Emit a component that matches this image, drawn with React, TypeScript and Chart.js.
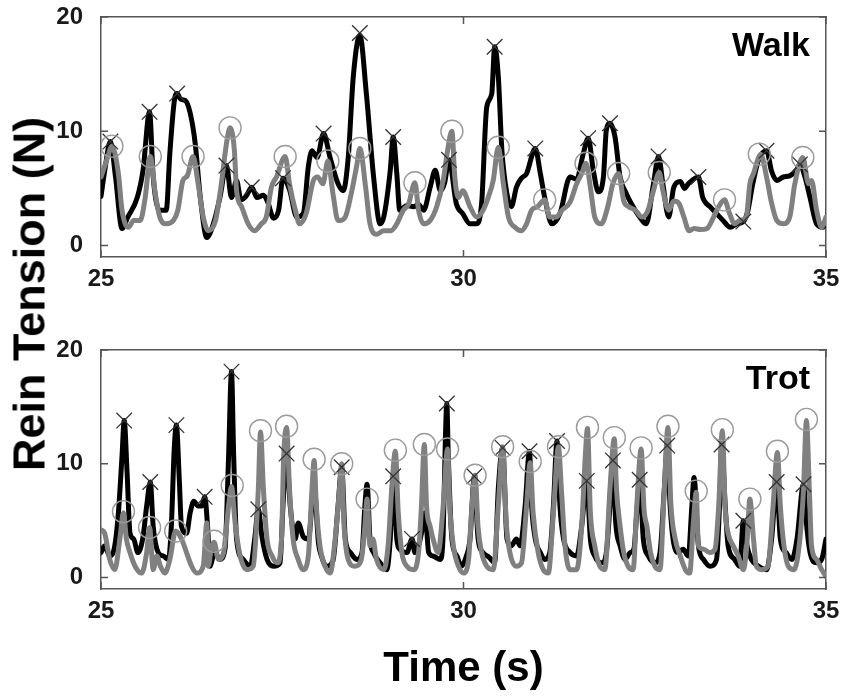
import { useEffect, useRef } from "react";
import { Chart, registerables } from "chart.js";

Chart.register(...registerables);

const FONT = "'Liberation Sans', Arial, Helvetica, sans-serif";

const xTicks = [25, 30, 35];
const yTicks = [0, 10, 20];

// ---------- Walk panel ----------
const walkBlackTime = [25.0, 25.05, 25.13, 25.2, 25.29, 25.37, 25.5, 25.58, 25.67, 25.72, 25.81, 25.9, 25.95, 26.02, 26.05, 26.1, 26.16, 26.23, 26.3, 26.37, 26.46, 26.55, 26.64, 26.73, 26.8, 26.87, 26.93, 27.0, 27.08, 27.15, 27.24, 27.3, 27.38, 27.45, 27.51, 27.6, 27.7, 27.79, 27.86, 27.91, 27.98, 28.07, 28.16, 28.27, 28.34, 28.41, 28.48, 28.57, 28.66, 28.76, 28.85, 28.9, 28.99, 29.03, 29.08, 29.12, 29.22, 29.31, 29.38, 29.45, 29.54, 29.61, 29.68, 29.74, 29.8, 29.9, 29.99, 30.09, 30.18, 30.25, 30.32, 30.39, 30.43, 30.48, 30.53, 30.6, 30.66, 30.73, 30.8, 30.87, 30.99, 31.06, 31.12, 31.22, 31.33, 31.47, 31.56, 31.65, 31.72, 31.79, 31.86, 31.93, 31.97, 32.02, 32.09, 32.16, 32.25, 32.34, 32.43, 32.52, 32.62, 32.69, 32.75, 32.83, 32.9, 32.99, 33.05, 33.1, 33.24, 33.3, 33.4, 33.49, 33.58, 33.68, 33.77, 33.86, 33.92, 33.99, 34.07, 34.18, 34.25, 34.32, 34.41, 34.5, 34.59, 34.64, 34.71, 34.78, 34.87, 34.96, 35.0];
const walkBlackTension = [4.3, 6.5, 9.1, 6.0, 1.5, 2.5, 4.2, 6.6, 11.7, 6.0, 3.1, 3.1, 8.1, 13.0, 13.3, 12.8, 12.7, 11.6, 8.9, 4.2, 0.7, 1.9, 4.2, 7.0, 4.2, 5.7, 4.0, 4.3, 5.1, 4.2, 4.4, 3.8, 2.4, 3.1, 5.9, 4.9, 2.5, 2.8, 6.9, 8.3, 7.7, 9.8, 7.7, 5.4, 4.8, 7.7, 14.8, 18.4, 13.3, 6.0, 1.9, 2.5, 6.6, 9.5, 6.3, 3.1, 3.5, 3.4, 3.6, 3.1, 5.1, 6.6, 4.8, 5.5, 7.5, 3.7, 2.8, 1.9, 1.9, 3.7, 12.1, 13.3, 17.4, 14.8, 8.3, 4.5, 3.4, 5.1, 5.9, 6.3, 8.5, 6.3, 4.2, 1.9, 2.8, 6.0, 5.8, 8.0, 9.4, 6.6, 4.7, 6.0, 10.1, 10.7, 9.5, 6.0, 4.5, 3.4, 2.5, 1.9, 5.4, 7.8, 5.4, 2.5, 5.1, 5.6, 5.0, 5.4, 6.0, 4.2, 3.4, 2.8, 2.2, 1.6, 1.9, 2.1, 3.0, 5.4, 7.5, 8.3, 6.5, 5.7, 6.0, 6.1, 6.6, 7.1, 6.0, 4.2, 1.9, 1.6, 2.3];

const walkGrayTime = [25.0, 25.09, 25.15, 25.24, 25.29, 25.38, 25.45, 25.54, 25.61, 25.68, 25.75, 25.81, 25.9, 26.0, 26.06, 26.13, 26.19, 26.27, 26.34, 26.41, 26.48, 26.58, 26.66, 26.73, 26.78, 26.84, 26.87, 26.94, 27.03, 27.12, 27.21, 27.28, 27.35, 27.42, 27.54, 27.6, 27.68, 27.74, 27.83, 27.93, 27.99, 28.06, 28.13, 28.2, 28.27, 28.3, 28.37, 28.46, 28.53, 28.57, 28.65, 28.71, 28.8, 28.9, 29.0, 29.08, 29.17, 29.24, 29.33, 29.38, 29.45, 29.54, 29.63, 29.72, 29.78, 29.84, 29.88, 29.93, 29.99, 30.09, 30.18, 30.27, 30.34, 30.41, 30.48, 30.55, 30.62, 30.71, 30.8, 30.87, 30.94, 31.02, 31.12, 31.19, 31.28, 31.36, 31.47, 31.56, 31.63, 31.69, 31.75, 31.81, 31.9, 31.99, 32.06, 32.14, 32.21, 32.28, 32.37, 32.46, 32.54, 32.62, 32.7, 32.75, 32.83, 32.9, 32.97, 33.04, 33.11, 33.18, 33.27, 33.36, 33.45, 33.52, 33.6, 33.67, 33.74, 33.81, 33.9, 33.95, 34.0, 34.07, 34.1, 34.18, 34.25, 34.32, 34.41, 34.5, 34.57, 34.68, 34.76, 34.8, 34.87, 34.94, 35.0];
const walkGrayTension = [6.0, 7.7, 8.7, 6.3, 3.1, 1.6, 2.2, 2.2, 4.2, 7.8, 4.5, 2.5, 1.9, 2.2, 3.1, 5.7, 6.1, 7.8, 5.4, 2.5, 1.3, 2.2, 5.4, 8.9, 10.3, 8.3, 4.8, 3.4, 1.9, 1.3, 1.9, 2.5, 5.1, 6.0, 7.8, 5.4, 3.1, 1.9, 2.8, 5.7, 6.0, 5.4, 7.4, 4.5, 2.2, 2.2, 2.5, 4.8, 7.1, 8.5, 5.1, 1.9, 1.0, 1.3, 1.3, 1.9, 3.1, 3.6, 5.5, 3.1, 1.9, 2.2, 3.4, 5.7, 8.3, 10.0, 6.0, 4.2, 4.8, 3.4, 2.5, 3.1, 4.2, 5.7, 8.6, 5.4, 2.5, 1.6, 1.3, 1.9, 3.1, 3.4, 4.0, 2.5, 2.5, 3.1, 3.8, 5.4, 6.3, 7.2, 5.1, 2.5, 1.9, 3.4, 5.4, 6.3, 3.9, 3.4, 3.1, 2.5, 3.0, 4.8, 6.4, 4.8, 3.1, 3.9, 3.7, 2.5, 1.3, 1.5, 1.4, 1.5, 2.5, 3.4, 4.0, 2.8, 1.9, 2.2, 2.5, 5.4, 6.3, 7.7, 8.0, 6.0, 3.7, 2.2, 1.9, 2.5, 5.4, 7.7, 5.4, 5.7, 3.1, 1.6, 2.5];

const walkCrossTime = [25.13, 25.67, 26.05, 26.73, 27.08, 27.51, 28.07, 28.57, 29.03, 29.8, 30.43, 30.99, 31.72, 32.02, 32.69, 33.24, 33.86, 34.18, 34.64];
const walkCrossTension = [9.1, 11.7, 13.3, 7.0, 5.1, 5.9, 9.8, 18.6, 9.5, 7.5, 17.4, 8.5, 9.4, 10.7, 7.8, 6.0, 2.1, 8.3, 7.1];

const walkCircleTime = [25.15, 25.68, 26.27, 26.78, 27.54, 28.13, 28.57, 29.33, 29.84, 30.48, 31.12, 31.69, 32.14, 32.7, 33.6, 34.08, 34.68];
const walkCircleTension = [8.7, 7.8, 7.8, 10.3, 7.8, 7.4, 8.5, 5.5, 10.0, 8.6, 4.0, 7.2, 6.3, 6.4, 4.0, 8.0, 7.7];

// ---------- Trot panel ----------
const trotBlackTime = [25.0, 25.05, 25.12, 25.19, 25.24, 25.29, 25.32, 25.36, 25.4, 25.45, 25.51, 25.58, 25.63, 25.68, 25.72, 25.79, 25.86, 25.93, 25.97, 26.01, 26.04, 26.08, 26.11, 26.18, 26.23, 26.28, 26.34, 26.39, 26.43, 26.47, 26.5, 26.57, 26.64, 26.71, 26.76, 26.8, 26.83, 26.87, 26.96, 27.06, 27.12, 27.17, 27.22, 27.29, 27.38, 27.47, 27.51, 27.56, 27.61, 27.68, 27.72, 27.79, 27.86, 27.94, 28.0, 28.04, 28.11, 28.2, 28.27, 28.32, 28.37, 28.44, 28.53, 28.6, 28.64, 28.67, 28.71, 28.76, 28.85, 28.94, 28.99, 29.03, 29.08, 29.12, 29.22, 29.29, 29.33, 29.38, 29.42, 29.47, 29.52, 29.58, 29.68, 29.72, 29.75, 29.77, 29.79, 29.84, 29.91, 29.97, 30.04, 30.09, 30.15, 30.2, 30.27, 30.35, 30.43, 30.48, 30.54, 30.6, 30.66, 30.73, 30.78, 30.85, 30.91, 30.94, 30.99, 31.06, 31.12, 31.19, 31.24, 31.29, 31.33, 31.38, 31.47, 31.56, 31.63, 31.7, 31.75, 31.81, 31.91, 31.97, 32.02, 32.06, 32.1, 32.16, 32.23, 32.3, 32.35, 32.39, 32.43, 32.48, 32.55, 32.64, 32.71, 32.77, 32.81, 32.85, 32.89, 32.96, 33.03, 33.1, 33.15, 33.18, 33.24, 33.31, 33.4, 33.49, 33.54, 33.56, 33.61, 33.65, 33.74, 33.81, 33.86, 33.91, 33.97, 34.07, 34.18, 34.25, 34.32, 34.37, 34.45, 34.53, 34.6, 34.69, 34.73, 34.78, 34.87, 34.94, 35.0];
const trotBlackTension = [2.2, 2.8, 1.9, 2.8, 5.7, 10.7, 13.8, 9.2, 3.9, 3.4, 2.2, 3.6, 6.3, 8.4, 4.5, 2.2, 1.9, 1.6, 4.5, 11.3, 13.4, 8.6, 4.5, 3.9, 5.7, 6.7, 6.3, 6.3, 7.1, 4.5, 1.0, 2.2, 1.6, 2.5, 10.7, 18.1, 10.7, 3.4, 1.6, 1.0, 3.4, 6.0, 3.6, 1.6, 1.0, 1.3, 6.3, 10.9, 6.3, 3.4, 4.8, 3.6, 3.4, 8.0, 3.0, 1.9, 1.0, 1.5, 6.3, 9.7, 3.4, 2.2, 1.6, 2.2, 6.3, 8.2, 3.4, 2.2, 1.3, 0.7, 3.4, 8.9, 3.4, 2.5, 2.2, 3.4, 2.2, 2.8, 3.9, 5.7, 2.2, 1.9, 1.6, 3.9, 12.2, 15.3, 10.7, 3.4, 1.9, 1.0, 1.9, 3.4, 8.9, 3.5, 2.2, 1.8, 1.3, 7.8, 11.4, 3.4, 2.8, 3.4, 2.8, 6.3, 11.1, 6.3, 3.4, 2.2, 1.6, 2.2, 6.3, 12.0, 6.3, 3.4, 2.2, 1.9, 4.5, 8.5, 3.4, 1.9, 1.3, 2.2, 6.3, 10.3, 4.8, 2.8, 1.6, 2.2, 2.5, 5.7, 8.6, 3.4, 1.9, 1.3, 2.2, 7.8, 11.6, 6.3, 3.4, 2.2, 2.5, 1.9, 6.3, 8.8, 2.8, 1.6, 1.0, 1.6, 7.8, 11.7, 6.3, 2.8, 1.6, 1.0, 5.0, 2.8, 1.6, 1.0, 0.7, 3.4, 8.4, 3.4, 2.2, 1.6, 3.4, 8.2, 4.8, 2.2, 1.3, 1.6, 3.4];

const trotGrayTime = [25.0, 25.05, 25.12, 25.19, 25.26, 25.31, 25.35, 25.4, 25.47, 25.56, 25.63, 25.67, 25.72, 25.77, 25.82, 25.88, 25.95, 26.03, 26.11, 26.18, 26.25, 26.32, 26.41, 26.46, 26.48, 26.52, 26.56, 26.62, 26.69, 26.76, 26.8, 26.85, 26.92, 27.01, 27.1, 27.17, 27.2, 27.24, 27.29, 27.36, 27.43, 27.49, 27.52, 27.56, 27.6, 27.65, 27.72, 27.79, 27.86, 27.91, 27.94, 27.97, 28.02, 28.09, 28.16, 28.23, 28.3, 28.32, 28.35, 28.41, 28.5, 28.59, 28.64, 28.67, 28.71, 28.75, 28.8, 28.9, 28.96, 29.01, 29.06, 29.1, 29.15, 29.22, 29.31, 29.38, 29.42, 29.46, 29.49, 29.54, 29.58, 29.65, 29.72, 29.78, 29.81, 29.86, 29.93, 30.0, 30.07, 30.11, 30.16, 30.2, 30.25, 30.32, 30.41, 30.48, 30.54, 30.59, 30.64, 30.73, 30.8, 30.87, 30.92, 30.96, 31.03, 31.1, 31.17, 31.24, 31.31, 31.35, 31.4, 31.47, 31.56, 31.63, 31.68, 31.71, 31.75, 31.81, 31.88, 31.95, 32.02, 32.08, 32.11, 32.16, 32.21, 32.27, 32.34, 32.39, 32.45, 32.49, 32.53, 32.58, 32.64, 32.71, 32.77, 32.82, 32.86, 32.92, 32.99, 33.06, 33.12, 33.17, 33.21, 33.24, 33.31, 33.4, 33.47, 33.52, 33.57, 33.61, 33.65, 33.72, 33.79, 33.86, 33.91, 33.95, 34.0, 34.04, 34.11, 34.2, 34.27, 34.33, 34.37, 34.42, 34.48, 34.56, 34.64, 34.69, 34.73, 34.77, 34.8, 34.87, 34.94, 35.0];
const trotGrayTension = [4.2, 3.9, 1.6, 0.7, 3.4, 5.7, 3.4, 2.2, 1.0, 0.4, 2.2, 4.4, 0.7, 1.9, 1.0, 0.4, 1.6, 4.1, 3.4, 2.2, 1.0, 0.4, 1.0, 4.8, 1.0, 2.6, 3.1, 1.6, 2.2, 6.3, 8.0, 4.8, 1.9, 0.7, 1.0, 7.8, 12.8, 7.8, 3.4, 1.9, 1.3, 3.4, 10.7, 13.2, 7.8, 3.4, 1.6, 0.7, 1.9, 7.8, 10.3, 6.3, 2.8, 1.0, 0.4, 3.4, 8.6, 10.0, 4.8, 1.6, 1.0, 1.6, 4.5, 6.9, 2.8, 3.4, 1.6, 0.7, 2.8, 7.8, 11.1, 5.7, 2.2, 1.0, 0.7, 2.2, 6.3, 11.7, 6.3, 4.5, 3.4, 2.2, 6.3, 11.3, 6.3, 2.8, 1.0, 0.4, 1.6, 5.7, 9.0, 4.5, 2.2, 1.0, 0.7, 6.3, 11.5, 4.8, 2.2, 1.0, 1.3, 6.3, 10.1, 5.7, 2.2, 0.7, 0.4, 5.7, 11.5, 7.8, 2.8, 0.7, 0.7, 4.5, 10.7, 13.1, 5.7, 2.8, 1.0, 0.7, 7.8, 12.2, 7.8, 4.5, 2.2, 1.0, 0.7, 6.3, 11.3, 6.0, 4.5, 2.2, 1.0, 0.7, 7.8, 13.2, 6.5, 3.4, 1.9, 0.7, 0.4, 4.8, 7.5, 2.8, 2.5, 2.2, 2.5, 6.3, 12.9, 6.0, 3.9, 2.8, 1.9, 0.7, 3.0, 6.9, 3.4, 1.0, 0.7, 1.0, 6.3, 11.0, 6.3, 2.8, 1.0, 0.7, 3.4, 7.8, 13.8, 7.8, 2.8, 1.6, 0.7, 0.1];

const trotCrossTime = [25.32, 25.68, 26.04, 26.43, 26.8, 27.17, 27.56, 28.32, 29.03, 29.29, 29.77, 30.15, 30.54, 30.91, 31.29, 31.7, 32.06, 32.43, 32.81, 33.56, 33.86, 34.32, 34.69];
const trotCrossTension = [13.8, 8.4, 13.4, 7.1, 18.1, 6.0, 10.9, 9.7, 8.9, 3.4, 15.3, 8.9, 11.4, 11.1, 12.0, 8.5, 10.3, 8.6, 11.6, 11.7, 5.0, 8.4, 8.2];

const trotCircleTime = [25.31, 25.67, 26.03, 26.56, 26.81, 27.2, 27.56, 27.94, 28.32, 28.67, 29.06, 29.46, 29.78, 30.16, 30.54, 30.92, 31.31, 31.71, 32.08, 32.45, 32.82, 33.21, 33.57, 33.95, 34.33, 34.73];
const trotCircleTension = [5.8, 4.4, 4.1, 3.2, 8.1, 12.9, 13.3, 10.4, 10.0, 6.9, 11.2, 11.7, 11.3, 9.0, 11.5, 10.2, 11.5, 13.2, 12.3, 11.4, 13.3, 7.6, 13.0, 6.9, 11.1, 13.9];

const zip = (t: number[], v: number[]) => t.map((x, i) => ({ x, y: v[i] }));

type PanelProps = {
  label: string;
  top: number;
  height: number;
  topAxis: number;
  bottomAxis: number;
  black: { x: number; y: number }[];
  gray: { x: number; y: number }[];
  crosses: { x: number; y: number }[];
  circles: { x: number; y: number }[];
};

const noPad = (s: any) => {
  s.paddingTop = 0;
  s.paddingBottom = 0;
  s.paddingLeft = 0;
  s.paddingRight = 0;
};

function Panel({ label, top, height, topAxis, bottomAxis, black, gray, crosses, circles }: PanelProps) {
  const ref = useRef<HTMLCanvasElement>(null);

  useEffect(() => {
    const canvas = ref.current;
    if (!canvas) return;

    const frame = {
      id: "frameTicks",
      afterDraw(chart: any) {
        const { ctx, chartArea: a, scales } = chart;
        ctx.save();
        ctx.strokeStyle = "#555";
        ctx.lineWidth = 1.5;
        const L = 7;
        ctx.beginPath();
        xTicks.forEach((v) => {
          const px = scales.x.getPixelForValue(v);
          ctx.moveTo(px, a.bottom);
          ctx.lineTo(px, a.bottom - L);
          ctx.moveTo(px, a.top);
          ctx.lineTo(px, a.top + L);
        });
        yTicks.forEach((v) => {
          const py = scales.y.getPixelForValue(v);
          ctx.moveTo(a.left, py);
          ctx.lineTo(a.left + L, py);
          ctx.moveTo(a.right, py);
          ctx.lineTo(a.right - L, py);
        });
        ctx.stroke();
        ctx.font = `bold 34px ${FONT}`;
        ctx.fillStyle = "#000";
        ctx.textAlign = "right";
        ctx.textBaseline = "alphabetic";
        ctx.fillText(label, a.right - 16, a.top + 39);
        ctx.restore();
      },
    };

    const border = { display: true, color: "#555", width: 1.5 };
    const tickFont = { family: FONT, size: 24, weight: "bold" as const };

    const chart = new Chart(canvas, {
      type: "line",
      data: {
        datasets: [
          {
            label: "circles",
            data: circles,
            showLine: false,
            pointStyle: "circle",
            pointRadius: 11,
            pointBorderWidth: 1.4,
            pointBorderColor: "#9a9a9a",
            pointBackgroundColor: "rgba(0,0,0,0)",
            borderColor: "#9a9a9a",
            backgroundColor: "rgba(0,0,0,0)",
          },
          {
            label: "crosses",
            data: crosses,
            showLine: false,
            pointStyle: "crossRot",
            pointRadius: 11,
            pointBorderWidth: 1.3,
            pointBorderColor: "#333",
            borderColor: "#333",
          },
          {
            label: "gray",
            data: gray,
            borderColor: "#808080",
            borderWidth: 5,
            pointRadius: 0,
            cubicInterpolationMode: "monotone",
            borderJoinStyle: "round",
            borderCapStyle: "round",
            fill: false,
          },
          {
            label: "black",
            data: black,
            borderColor: "#000",
            borderWidth: 5,
            pointRadius: 0,
            cubicInterpolationMode: "monotone",
            borderJoinStyle: "round",
            borderCapStyle: "round",
            fill: false,
          },
        ],
      },
      options: {
        responsive: false,
        animation: false,
        events: [],
        layout: { padding: 0 },
        plugins: { legend: { display: false }, tooltip: { enabled: false } },
        scales: {
          x: {
            type: "linear",
            position: "bottom",
            min: 25,
            max: 35,
            afterBuildTicks: (s: any) => {
              s.ticks = xTicks.map((value) => ({ value }));
            },
            afterFit: (s: any) => {
              s.height = bottomAxis;
              noPad(s);
            },
            ticks: { font: tickFont, color: "#1a1a1a", padding: 8, maxRotation: 0, autoSkip: false },
            grid: { display: false, drawTicks: false },
            border,
          },
          x2: {
            type: "linear",
            position: "top",
            min: 25,
            max: 35,
            afterFit: (s: any) => {
              s.height = topAxis;
              noPad(s);
            },
            ticks: { display: false },
            grid: { display: false, drawTicks: false },
            border,
          },
          y: {
            type: "linear",
            position: "left",
            min: -1,
            max: 20,
            afterBuildTicks: (s: any) => {
              s.ticks = yTicks.map((value) => ({ value }));
            },
            afterFit: (s: any) => {
              s.width = 101;
              noPad(s);
            },
            ticks: { font: tickFont, color: "#1a1a1a", padding: 18 },
            grid: { display: false, drawTicks: false },
            border,
          },
          y2: {
            type: "linear",
            position: "right",
            min: -1,
            max: 20,
            afterFit: (s: any) => {
              s.width = 25;
              noPad(s);
            },
            ticks: { display: false },
            grid: { display: false, drawTicks: false },
            border,
          },
        },
      },
      plugins: [frame],
    } as any);

    return () => chart.destroy();
  }, []);

  return (
    <canvas
      ref={ref}
      width={851}
      height={height}
      style={{ position: "absolute", left: 0, top, width: 851, height }}
    />
  );
}

export default function App() {
  return (
    <div style={{ position: "absolute", left: 0, top: 0, width: 851, height: 698, background: "#fff", overflow: "hidden" }}>
      <Panel
        label="Walk"
        top={0}
        height={300}
        topAxis={17}
        bottomAxis={43}
        black={zip(walkBlackTime, walkBlackTension)}
        gray={zip(walkGrayTime, walkGrayTension)}
        crosses={zip(walkCrossTime, walkCrossTension)}
        circles={zip(walkCircleTime, walkCircleTension)}
      />
      <Panel
        label="Trot"
        top={330}
        height={368}
        topAxis={20}
        bottomAxis={109}
        black={zip(trotBlackTime, trotBlackTension)}
        gray={zip(trotGrayTime, trotGrayTension)}
        crosses={zip(trotCrossTime, trotCrossTension)}
        circles={zip(trotCircleTime, trotCircleTension)}
      />
      <div
        style={{
          position: "absolute",
          left: 29,
          top: 294,
          transform: "translate(-50%, -50%) rotate(-90deg)",
          whiteSpace: "nowrap",
          font: `bold 45px ${FONT}`,
          lineHeight: 1,
          color: "#000",
        }}
      >
        Rein Tension (N)
      </div>
      <div
        style={{
          position: "absolute",
          left: 463.5,
          top: 646,
          transform: "translateX(-50%)",
          whiteSpace: "nowrap",
          font: `bold 42px ${FONT}`,
          lineHeight: 1,
          color: "#000",
        }}
      >
        Time (s)
      </div>
    </div>
  );
}
